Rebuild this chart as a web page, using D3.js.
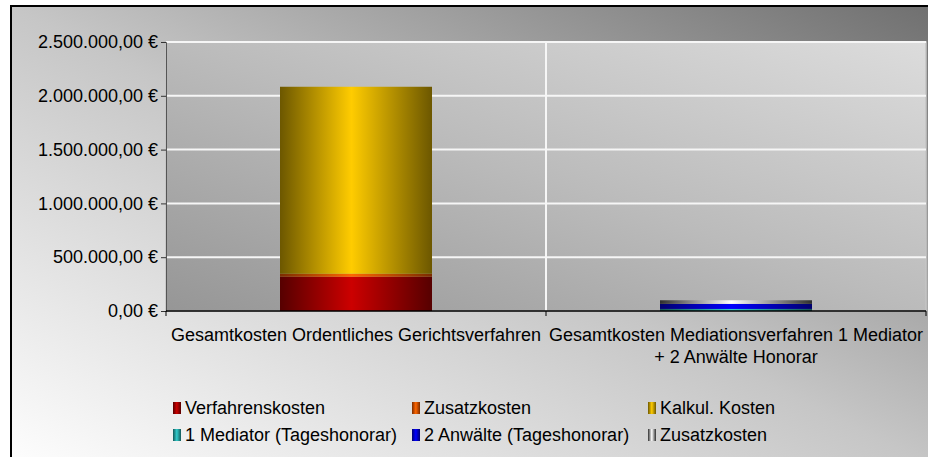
<!DOCTYPE html>
<html>
<head>
  <meta charset="UTF-8">
  <title>Kostenvergleich</title>
  <script src="https://cdn.jsdelivr.net/npm/d3@7"></script>
  <style>
    body { margin: 0; background: #fff; }
    svg text { font-family: Arial, "Liberation Sans", sans-serif; fill: #000; }
  </style>
</head>
<body>

<div class="chart"></div>

<script>

  // data
  var categories = [
    'Gesamtkosten Ordentliches Gerichtsverfahren',
    'Gesamtkosten Mediationsverfahren 1 Mediator + 2 Anwälte Honorar'
  ];
  var seriesNames = [
    'Verfahrenskosten', 'Zusatzkosten', 'Kalkul. Kosten',
    '1 Mediator (Tageshonorar)', '2 Anwälte (Tageshonorar)', 'Zusatzkosten'
  ];
  var verfahrenskosten = [318000, 0];
  var zusatzkosten = [28000, 0];
  var kalkulKosten = [1738000, 0];
  var mediator = [0, 19000];
  var anwaelte = [0, 47000];
  var zusatzkostenMediation = [0, 34000];
  var yTicks = [0, 500000, 1000000, 1500000, 2000000, 2500000];

  // [light, dark] for the cylinder shading
  var colors = [
    ['#cc0000', '#560000'],
    ['#ff6600', '#7a2c00'],
    ['#ffcc00', '#6c5700'],
    ['#33cccc', '#145858'],
    ['#0000ff', '#00006e'],
    ['#ffffff', '#2e2e2e']
  ];

  var W = 928, H = 457;
  var plot = { left: 166, top: 42, right: 926, bottom: 311 };

  var svg = d3.select('.chart')
    .append('svg')
      .attr('width', W)
      .attr('height', H);

  var defs = svg.append('defs');

  var bgGrad = defs.append('linearGradient')
    .attr('id', 'chartBg')
    .attr('x1', 0).attr('y1', 1).attr('x2', 1).attr('y2', 0);
  bgGrad.append('stop').attr('offset', 0).attr('stop-color', '#ffffff');
  bgGrad.append('stop').attr('offset', 0.5).attr('stop-color', '#c6c6c6');
  bgGrad.append('stop').attr('offset', 1).attr('stop-color', '#6e6e6e');

  var plotGrad = defs.append('linearGradient')
    .attr('id', 'plotBg')
    .attr('x1', 0).attr('y1', 1).attr('x2', 1).attr('y2', 0);
  plotGrad.append('stop').attr('offset', 0).attr('stop-color', '#969696');
  plotGrad.append('stop').attr('offset', 0.5).attr('stop-color', '#bbbbbb');
  plotGrad.append('stop').attr('offset', 1).attr('stop-color', '#dcdcdc');

  colors.forEach(function (c, i) {
    var g = defs.append('linearGradient')
      .attr('id', 'bar' + i)
      .attr('x1', 0).attr('y1', 0).attr('x2', 1).attr('y2', 0);
    g.append('stop').attr('offset', 0).attr('stop-color', c[1]);
    g.append('stop').attr('offset', 0.47).attr('stop-color', c[0]);
    g.append('stop').attr('offset', 1).attr('stop-color', c[1]);
  });

  // chart area
  svg.append('rect')
    .attr('x', 11).attr('y', 6)
    .attr('width', 940).attr('height', 470)
    .attr('fill', 'url(#chartBg)')
    .attr('stroke', '#000')
    .attr('stroke-width', 2);

  // plot area
  svg.append('rect')
    .attr('x', plot.left).attr('y', plot.top)
    .attr('width', plot.right - plot.left)
    .attr('height', plot.bottom - plot.top)
    .attr('fill', 'url(#plotBg)')
    .attr('stroke', '#c4c4c4')
    .attr('stroke-width', 1.5);

  var yScale = d3.scaleLinear()
    .domain([0, 2500000])
    .range([plot.bottom, plot.top]);

  var xScale = d3.scaleBand()
    .domain(categories)
    .range([plot.left, plot.right])
    .padding(0);

  var barWidth = xScale.bandwidth() / 2.5;

  // gridlines
  svg.append('g')
    .selectAll('line')
    .data(yTicks.slice(1))
    .enter()
    .append('line')
      .attr('x1', plot.left).attr('x2', plot.right)
      .attr('y1', d => yScale(d)).attr('y2', d => yScale(d))
      .attr('stroke', '#f6f6f6')
      .attr('stroke-width', 2);

  svg.append('line')
    .attr('x1', xScale(categories[1])).attr('x2', xScale(categories[1]))
    .attr('y1', plot.top).attr('y2', plot.bottom)
    .attr('stroke', '#f6f6f6')
    .attr('stroke-width', 2);

  // stacked bars
  var table = categories.map(function (c, i) {
    return {
      cat: c,
      s0: verfahrenskosten[i], s1: zusatzkosten[i], s2: kalkulKosten[i],
      s3: mediator[i], s4: anwaelte[i], s5: zusatzkostenMediation[i]
    };
  });
  var keys = ['s0', 's1', 's2', 's3', 's4', 's5'];
  var stacked = d3.stack().keys(keys)(table);

  svg.append('g')
    .selectAll('g')
    .data(stacked)
    .enter()
    .append('g')
      .attr('fill', (d, i) => 'url(#bar' + i + ')')
    .selectAll('rect')
    .data(d => d.filter(p => p[1] > p[0]))
    .enter()
    .append('rect')
      .attr('x', d => xScale(d.data.cat) + (xScale.bandwidth() - barWidth) / 2)
      .attr('width', barWidth)
      .attr('y', d => yScale(d[1]))
      .attr('height', d => yScale(d[0]) - yScale(d[1]));

  // y axis
  var de = d3.formatLocale({
    decimal: ',', thousands: '.', grouping: [3], currency: ['', ' €']
  });
  var yAxis = d3.axisLeft(yScale)
    .tickValues(yTicks)
    .tickSize(5)
    .tickPadding(3)
    .tickFormat(de.format('$,.2f'));
  var yg = svg.append('g')
    .attr('transform', 'translate(' + plot.left + ',0)')
    .call(yAxis);
  yg.select('.domain').attr('stroke', '#555');
  yg.selectAll('.tick line').attr('stroke', '#333');
  yg.selectAll('text')
    .style('font-size', '18px')
    .attr('fill', '#000');

  // x axis line and boundary ticks
  svg.append('line')
    .attr('x1', plot.left).attr('x2', plot.right)
    .attr('y1', plot.bottom).attr('y2', plot.bottom)
    .attr('stroke', '#000')
    .attr('stroke-width', 1.5);
  var bounds = categories.map(c => xScale(c)).concat([plot.right]);
  svg.append('g')
    .selectAll('line')
    .data(bounds)
    .enter()
    .append('line')
      .attr('x1', d => d).attr('x2', d => d)
      .attr('y1', plot.bottom).attr('y2', plot.bottom + 5)
      .attr('stroke', '#000');

  // category labels, wrapped to the band width
  var xLabels = svg.append('g')
    .selectAll('text')
    .data(categories)
    .enter()
    .append('text')
      .attr('x', d => xScale(d) + xScale.bandwidth() / 2)
      .attr('y', 341)
      .attr('text-anchor', 'middle')
      .style('font-size', '18px');
  xLabels.each(function (d) {
    var text = d3.select(this);
    var words = d.split(' ');
    var line = [];
    var lineNo = 0;
    var tspan = text.append('tspan').attr('x', text.attr('x')).attr('dy', 0);
    words.forEach(function (w) {
      line.push(w);
      tspan.text(line.join(' '));
      if (tspan.node().getComputedTextLength() > xScale.bandwidth() - 2 && line.length > 1) {
        line.pop();
        tspan.text(line.join(' '));
        line = [w];
        lineNo++;
        tspan = text.append('tspan')
          .attr('x', text.attr('x'))
          .attr('dy', 22)
          .text(w);
      }
    });
  });

  // legend
  var legendCols = [173, 412, 648];
  var legendRows = [408, 435];
  var legend = svg.append('g')
    .selectAll('g')
    .data(seriesNames)
    .enter()
    .append('g')
      .attr('transform', (d, i) => 'translate(' + legendCols[i % 3] + ',' + legendRows[Math.floor(i / 3)] + ')');
  legend.append('rect')
    .attr('x', 0).attr('y', -6)
    .attr('width', 8).attr('height', 12)
    .attr('fill', (d, i) => 'url(#bar' + i + ')');
  legend.append('text')
    .attr('x', 12)
    .attr('y', 0)
    .attr('dy', '0.35em')
    .style('font-size', '18px')
    .text(d => d);

</script>

</body>
</html>
